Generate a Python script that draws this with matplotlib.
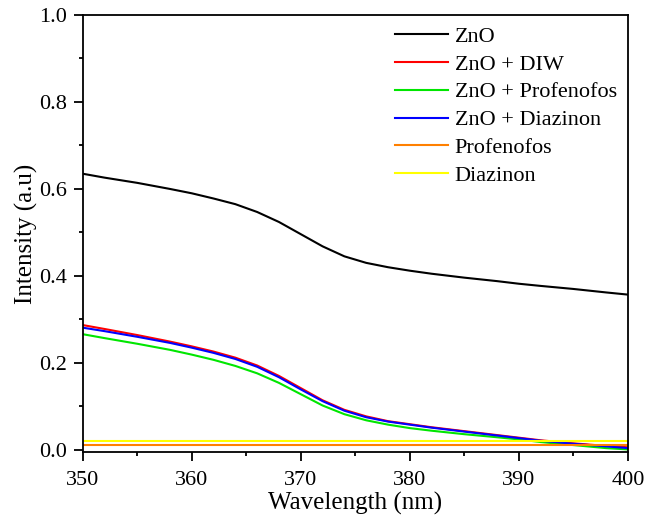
import numpy as np
import matplotlib
matplotlib.use("Agg")
import matplotlib.pyplot as plt
from matplotlib.ticker import MultipleLocator, FormatStrFormatter

# values
wavelength = [350, 352, 355, 358, 360, 362, 364, 366, 368, 370, 372, 374, 376,
              378, 380, 382, 385, 388, 390, 392, 395, 398, 400]
zno = [0.635, 0.626, 0.614, 0.600, 0.590, 0.578, 0.565, 0.547, 0.524, 0.496,
       0.468, 0.445, 0.430, 0.420, 0.412, 0.405, 0.396, 0.388, 0.382, 0.377,
       0.370, 0.362, 0.357]
zno_diw = [0.287, 0.278, 0.264, 0.249, 0.238, 0.226, 0.212, 0.194, 0.170, 0.142,
           0.114, 0.092, 0.077, 0.066, 0.059, 0.052, 0.043, 0.034, 0.028, 0.022,
           0.015, 0.009, 0.006]
zno_profenofos = [0.266, 0.257, 0.244, 0.230, 0.219, 0.207, 0.193, 0.176, 0.154, 0.128,
                  0.102, 0.082, 0.068, 0.058, 0.050, 0.044, 0.036, 0.029, 0.024, 0.018,
                  0.011, 0.004, 0.001]
zno_diazinon = [0.281, 0.273, 0.260, 0.246, 0.235, 0.223, 0.209, 0.191, 0.167, 0.139,
                0.112, 0.090, 0.075, 0.065, 0.058, 0.051, 0.042, 0.033, 0.027, 0.021,
                0.014, 0.008, 0.004]
profenofos = [0.011] * len(wavelength)
diazinon = [0.020] * len(wavelength)

series = [
    ("ZnO", zno, "black"),
    ("ZnO + DIW", zno_diw, "#ff0000"),
    ("ZnO + Profenofos", zno_profenofos, "#00e600"),
    ("ZnO + Diazinon", zno_diazinon, "#0000ff"),
    ("Profenofos", profenofos, "#ff8000"),
    ("Diazinon", diazinon, "#ffff00"),
]

plt.rcParams["font.family"] = ["Liberation Serif", "DejaVu Serif"]

fig = plt.figure(figsize=(6.46, 5.17), dpi=100)
# axes box: x 83..628 px, y 15..452 px
ax = fig.add_axes([0.128, 0.126, 0.844, 0.845])

for name, vals, col in series:
    ax.plot(wavelength, vals, color=col, lw=1.5, label=name)

ax.set_xlim(350, 400)
ax.set_ylim(-0.0046, 1.0)
ax.xaxis.set_major_locator(MultipleLocator(10))
ax.xaxis.set_minor_locator(MultipleLocator(5))
ax.yaxis.set_major_locator(MultipleLocator(0.2))
ax.yaxis.set_minor_locator(MultipleLocator(0.1))
ax.yaxis.set_major_formatter(FormatStrFormatter("%.1f"))
ax.tick_params(which="both", direction="out", width=1.3, labelsize=16)
ax.tick_params(which="major", length=6.5)
ax.tick_params(which="minor", length=3)
ax.tick_params(axis="x", which="major", pad=7)
ax.tick_params(axis="y", which="major", pad=4.5)
for s in ax.spines.values():
    s.set_linewidth(1.3)

ax.set_xlabel("Wavelength (nm)", fontsize=18, labelpad=2)
ax.set_ylabel("Intensity (a.u)", fontsize=18, labelpad=1)

ax.legend(loc="upper right", frameon=False, fontsize=16, handlelength=2.4,
          labelspacing=0.33, borderaxespad=0.1, handletextpad=0.3)

fig.savefig("out.png", dpi=100)
